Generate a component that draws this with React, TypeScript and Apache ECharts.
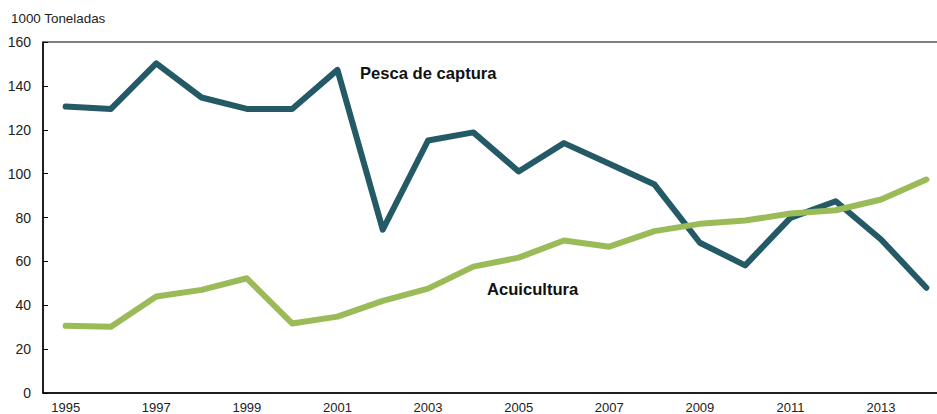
import React, { useEffect, useRef } from "react";
import * as echarts from "echarts";

const years = ["1995","1996","1997","1998","1999","2000","2001","2002","2003","2004","2005","2006","2007","2008","2009","2010","2011","2012","2013","2014"];
const pesca = [130.6,129.5,150.3,134.7,129.5,129.5,147.3,74.5,115.1,118.8,101,113.9,104.5,95,68.5,58.2,79.8,87.4,70,48];
const acuicultura = [30.6,30.2,44,47,52.3,31.7,34.8,42,47.6,57.6,61.7,69.5,66.7,73.8,77.1,78.6,81.8,83.3,88.2,97.3];
const unitLabel = "1000 Toneladas";
const pescaName = "Pesca de captura";
const acuiName = "Acuicultura";

export default function App() {
  const ref = useRef<HTMLDivElement>(null);
  useEffect(() => {
    if (!ref.current) return;
    const chart = echarts.init(ref.current, null, { renderer: "svg" });
    const font = "Arial, 'Liberation Sans', sans-serif";
    chart.setOption({
      animation: false,
      grid: { left: 43, top: 42, width: 906, height: 352, show: true, borderColor: "#000", borderWidth: 1, backgroundColor: "transparent" },
      xAxis: {
        type: "category",
        data: years,
        boundaryGap: true,
        axisLine: { lineStyle: { color: "#000", width: 1.5 } },
        axisTick: { inside: true, length: 6, interval: 0, lineStyle: { color: "#000" } },
        axisLabel: { interval: 1, color: "#222", fontSize: 13, fontFamily: font, margin: 8 },
        splitLine: { show: false },
      },
      yAxis: {
        type: "value",
        min: 0,
        max: 160,
        interval: 20,
        axisLine: { show: true, lineStyle: { color: "#000", width: 1.5 } },
        axisTick: { show: true, inside: true, length: 5, lineStyle: { color: "#000" } },
        axisLabel: { color: "#222", fontSize: 14, fontFamily: font, margin: 12 },
        splitLine: { show: false },
      },
      series: [
        {
          name: pescaName,
          type: "line",
          data: pesca,
          symbol: "none",
          lineStyle: { color: "#235A66", width: 6, cap: "round", join: "round" },
        },
        {
          name: acuiName,
          type: "line",
          data: acuicultura,
          symbol: "none",
          lineStyle: { color: "#9BBB59", width: 6, cap: "round", join: "round" },
        },
      ],
      graphic: [
        { type: "text", left: 11, top: 12, style: { text: unitLabel, fontSize: 13.4, fontFamily: font, fill: "#222" } },
        { type: "text", left: 360, top: 65, style: { text: pescaName, fontSize: 16.6, fontWeight: "bold", fontFamily: font, fill: "#111" } },
        { type: "text", left: 487, top: 281, style: { text: acuiName, fontSize: 16.6, fontWeight: "bold", fontFamily: font, fill: "#111" } },
      ],
    });
    return () => chart.dispose();
  }, []);
  return (
    <div style={{ position: "absolute", left: 0, top: 0, width: 937, height: 414, overflow: "hidden" }}>
      <div ref={ref} style={{ width: 960, height: 414 }} />
    </div>
  );
}
